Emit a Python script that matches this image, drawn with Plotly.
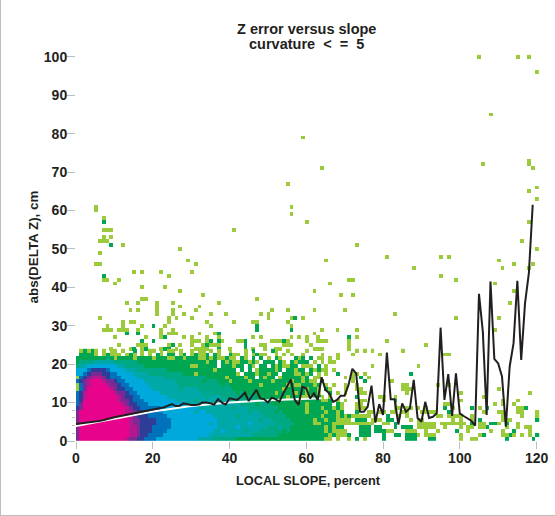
import numpy as np
import plotly.graph_objects as go

# density class per 1x1 bin, bottom row first, chunks of ten slope bins
# . empty, 1 light green ... a magenta
dense_rows = [
  "8aaaaaaaaa aaa9887766 6555555555 5544443333 3322222222 2222222222 2222211.1. .1.2.1.... 2.....222. ..22...... 1..11..... ..2......2.",
  "8aaaaaaaaa aaaa998776 6665555555 5555544444 4444443333 3332222222 2222221211 12..222... 2..22.2221 .111...... 1....12... .1121.1.1.2",
  "8aaaaaaaaa aaaa998777 6666555555 5555554454 4444344433 3333232222 2222212111 1...222.22 211...111. .1..1....2 ..1.....1. .1..2...1..",
  "8aaaaaaaaa aaaa998777 6666655555 5555555444 4454444444 3334332222 2222212122 ....222.22 ...2.222.1 1111..1... 1.11.112.. ..1..1.11..",
  "8aaaaaaaaa aaaa988777 7666655555 5555545444 4444454444 4433333222 2211222111 11111111.. 11.2.....1 1111.11111 11.2.11.22 1.2..1.....",
  "8aaaaaaaaa aaaa988777 7666655555 5555555444 4444444434 4333332222 2212212211 11.222.111 .22....1.1 1.......1. 1..1.2.... .111......2",
  "8aaaaaaaaa aaaa987776 6666555555 5555554444 4434444443 3333322222 2222122212 1211111... .2..1.1... ....11.111 1..1...... .1....1...1",
  "8aaaaaaaaa aaa9987766 6665555555 5455444444 4444434433 3323222222 1222212212 ...2..11.1 1.11.11... 1111...2.. ......1... 11...11...1",
  "78aaaaaaaa aaa9877666 6655555555 5544444444 4344433333 3332222222 1222122121 ...111.... ...11.11.1 .1....2.1. ...2.1.2.. .....112...",
  "68aaaaaaaa aa98776665 5555555554 4444434444 4443333233 3222222222 1222222.21 ...11..... ...1...... ......11.. .........1 .1..1......",
  "67aaaaaaaa a988766655 5555554444 4344444444 4333333333 2222222212 2222112.1. 1...11.... 1..2...... .......... 1......... .1...1.....",
  "679aaaaaaa a987766555 5555444444 4444344433 3333233222 2222212221 11221.1... ...2.....1 1..1...... .......... ......1... ...........",
  "679aaaaaaa 9887665555 5544444444 4443433333 3323222222 2212222122 1221..2.1. 1...11.... ......1... .......... 1......... ........1..",
  "168aaaaaa9 8776655555 4444444344 4433333333 3222222222 2222122222 1221.21... 1..11..... .....111.. .......... .......... 1..........",
  "1689aaaa98 8766555554 4444444333 3333333323 2222222212 2222212112 2212.1.1.. 1..1...... .....11... ....1..1.. .......... ...........",
  "6789aaa988 7665555544 4444443333 3332333222 1222212222 2122221221 211.2..... ..1..2.... ..1....... .......... .......... ...........",
  "1678999876 6655554444 4443333333 3333222221 2222122.21 22.1222221 2.11...... 1.1.2.1... .......... .......... .......... ...........",
  "5567888776 6555544443 3333333322 2122222222 221.222122 122.222112 12.1.1..2. ..11.1.... .......2.. .......... .......... ...........",
  "5556777765 5554443333 3333222222 2222221222 22.2.2.122 2212.22122 .21211.1.. .......... .......... .......... .......... ...........",
  "3445555555 5443333322 2222222222 1122222.22 2122.21.22 .2121122.1 11.2.1.... .......1.. .........1 .......... .......... ...........",
  "2333344444 3333332222 2222222222 2222122.21 21122121.2 22.21.2122 2.1.1.11.. .......... .......... .......... .......... ...........",
  "2222222232 1222212222 1222112212 2211212112 11.21.2.2. 1.21...212 .2.11.1.1. .......... .......... .......... .......... ...........",
  ".22221.121 11.121.1.1 .21.22.12. 12112.21.. 211.1.1211 ..1.1.1..1 ....1...1. ..1......1 .......... ......11.. .......... ...........",
  ".12121.1.1 1.1..2.1.1 1.1.11.1.. 1.11.1.1.. 1...1.2... .21..1.... 1......... ...1.1.1.. .....1.... .......... .......... ...........",
]

light_x = [105, 115, 118, 120, 108, 59, 118, 106, 118, 64, 119, 55, 120, 118, 120, 5, 56, 5, 56, 7, 60, 118,
           7, 8, 9, 41, 7, 9, 6, 7, 8, 116, 12, 73, 27, 120, 6, 81, 95, 97, 29, 65, 110,
           5, 6, 31, 114, 119, 88, 111, 118, 15, 17, 22, 30, 24, 95, 7, 8, 11, 71, 72, 99,
           10, 66, 109, 17, 23, 27, 62, 114, 33, 69, 72, 17, 18, 47, 13, 16, 21, 25, 37, 113,
           21, 27, 32, 14, 16, 21, 25, 31, 51, 55, 62, 70, 21, 25, 28, 35, 39, 48, 50, 83,
           6, 24, 26, 30, 50, 56, 59, 99, 110, 12, 14, 15, 24, 34, 41, 46, 47, 55,
           8, 12, 17, 23, 35, 56, 7, 8, 9, 11, 12, 13, 16, 22, 25, 64, 68, 73, 109,
           22, 24, 25, 26, 32, 36, 62, 10, 18, 22, 28, 30, 34, 37, 46, 48, 56, 58, 60, 63, 73,
           30, 31, 32, 34, 38, 42, 43, 51, 52, 53, 55, 60, 63, 64, 65, 71, 81,
           11, 16, 17, 18, 24, 27, 30, 33, 35, 36, 37, 48, 49, 54, 55, 56, 61, 71, 91,
           9, 14, 17, 22, 26, 31, 32, 33, 34, 40, 46, 49, 52, 53, 62, 63, 64, 71]
light_y = [100, 100, 100, 96, 85, 79, 73, 72, 72, 71, 71, 67, 66, 65, 63, 61, 61, 60, 59, 58, 57, 57,
           55, 55, 55, 55, 53, 53, 52, 52, 52, 52, 51, 51, 50, 50, 49, 48, 48, 48, 47, 47, 47,
           46, 46, 46, 46, 46, 45, 45, 45, 44, 44, 44, 44, 43, 43, 42, 42, 42, 42, 42, 42,
           41, 41, 41, 40, 40, 39, 39, 39, 38, 38, 38, 37, 37, 37, 36, 36, 36, 36, 36, 36,
           35, 35, 35, 34, 34, 34, 34, 34, 34, 34, 34, 34, 33, 33, 33, 33, 33, 33, 33, 33,
           32, 32, 32, 32, 32, 32, 32, 32, 32, 31, 31, 31, 31, 31, 31, 31, 31, 31,
           30, 30, 30, 30, 30, 30, 29, 29, 29, 29, 29, 29, 29, 29, 29, 29, 29, 29, 29,
           28, 28, 28, 28, 28, 28, 28, 27, 27, 27, 27, 27, 27, 27, 27, 27, 27, 27, 27, 27, 27,
           26, 26, 26, 26, 26, 26, 26, 26, 26, 26, 26, 26, 26, 26, 26, 26, 26,
           25, 25, 25, 25, 25, 25, 25, 25, 25, 25, 25, 25, 25, 25, 25, 25, 25, 25, 25,
           24, 24, 24, 24, 24, 24, 24, 24, 24, 24, 24, 24, 24, 24, 24, 24, 24, 24]
green_x = [7, 9, 7, 57, 20, 47, 47, 56, 13, 16, 37, 23, 71, 17, 20, 35, 37, 44, 54, 25, 34, 44, 15, 18, 23, 24, 37, 44]
green_y = [57, 51, 43, 32, 30, 30, 29, 29, 28, 28, 28, 27, 27, 26, 26, 26, 26, 26, 26, 25, 25, 25, 24, 24, 24, 24, 24, 24]

mean_err = [4.4, 4.5, 4.7, 4.8, 4.9, 5, 5.2, 5.4, 5.6, 5.9, 6.2, 6.4, 6.6, 6.8, 7, 7.2, 7.4, 7.6, 7.8, 8,
            8.2, 8.3, 8.5, 8.8, 9.2, 9.6, 9.1, 9.2, 9.8, 9.5, 9.4, 9.4, 9.5, 10, 10, 9.8, 9.5, 10.9, 10, 9.5,
            11.1, 10.9, 10.7, 11.5, 12.6, 10.4, 11.8, 13.3, 11.1, 10.9, 10, 11.3, 10.9, 10.2, 12.4, 14.1, 16, 10.7, 9.4, 14.1,
            13.7, 11.1, 12.4, 10.7, 16.6, 13.3, 12.4, 10.2, 10.7, 11.8, 11.8, 14.6, 18.8, 17.6, 7.6, 7.6, 8.9, 14.4, 4.8, 9.6,
            6.8, 23, 10.9, 10.9, 4.3, 9.8, 7.6, 8.5, 15.9, 6, 5, 10.2, 6, 6.3, 7.2, 29.5, 10.7, 17.4, 6.5, 17.6,
            7.2, 6.5, 5.9, 5.3, 4, 38.3, 28.5, 6.8, 41.5, 21.4, 20.2, 16.8, 3.7, 19.4, 25.4, 41.7, 21.1, 35.9, 43.7, 61.5]
trend_x = [0, 10, 20, 30, 40, 50, 60, 64]
trend_y = [3.9, 5.8, 7.7, 9.1, 10, 10.6, 10.9, 11.1]

x_ticks = [0, 20, 40, 60, 80, 100, 120]
y_ticks = [0, 10, 20, 30, 40, 50, 60, 70, 80, 90, 100]

class_colors = ["#9BCB3B", "#00A651", "#00A884", "#00A8A8", "#00A9DC", "#0072BC",
                "#2E3E98", "#7A2A92", "#B5178E", "#E8038D"]
scale = [[i / 9, col] for i, col in enumerate(class_colors)]

levels = "123456789a"
dense = []
for row in dense_rows:
  row = row.replace(" ", "").ljust(121, ".")
  dense.append([levels.index(ch) + 1 if ch in levels else None for ch in row])

sparse = [[None] * 121 for _ in range(101)]
for cx, cy in zip(light_x, light_y):
  sparse[cy][cx] = 1
for cx, cy in zip(green_x, green_y):
  sparse[cy][cx] = 2

fig = go.Figure()
fig.add_trace(go.Heatmap(
  z=sparse, x=np.arange(121) + 0.2, y=np.arange(101),
  zmin=1, zmax=10, colorscale=scale, showscale=False, hoverongaps=False
))
fig.add_trace(go.Heatmap(
  z=dense, x=np.arange(121) + 0.3, y=np.arange(len(dense)) + 0.5,
  zmin=1, zmax=10, colorscale=scale, showscale=False, hoverongaps=False
))
fig.add_trace(go.Scatter(x=trend_x, y=trend_y, mode="lines", line={"color": "white", "width": 2}))
fig.add_trace(go.Scatter(x=list(range(120)), y=mean_err, mode="lines", line={"color": "#231F20", "width": 2}))

tick_font = {"family": "Liberation Sans", "size": 14, "color": "#231F20"}
title_font = {"family": "Liberation Sans", "size": 14.5, "color": "#231F20"}
fig.update_layout(
  width=555, height=516, autosize=False,
  margin={"l": 76, "r": 15, "t": 53, "b": 75},
  paper_bgcolor="white", plot_bgcolor="white", showlegend=False,
  font=tick_font,
  xaxis={
    "range": [0, 120.9], "tickvals": x_ticks, "ticktext": [f"<b>{t}</b>" for t in x_ticks], "automargin": False,
    "ticks": "outside", "ticklen": 7, "tickcolor": "#BDBDBD", "tickwidth": 1, "ticklabelstandoff": -3,
    "showgrid": False, "zeroline": False, "showline": False,
    "title": {"text": "<b>LOCAL SLOPE, percent</b>", "standoff": 11,
              "font": {"family": "Liberation Sans", "size": 12.8, "color": "#231F20"}},
  },
  yaxis={
    "range": [0, 101], "tickvals": y_ticks, "ticktext": [f"<b>{t}</b>" for t in y_ticks], "automargin": False,
    "ticks": "outside", "ticklen": 8, "tickcolor": "#BDBDBD", "tickwidth": 1, "ticklabelstandoff": -3,
    "showgrid": False, "zeroline": False, "showline": False,
    "minor": {"tickvals": [2, 4, 6, 8], "ticks": "outside", "ticklen": 3, "tickcolor": "#BDBDBD"},
    "title": {"text": "<b>abs(DELTA Z), cm</b>", "standoff": 2,
              "font": {"family": "Liberation Sans", "size": 13.4, "color": "#231F20"}},
  },
  annotations=[
    {"text": "<b>Z error versus slope</b>", "xref": "paper", "yref": "paper", "x": 230 / 464, "y": (441 - 29) / 388,
     "xanchor": "center", "yanchor": "middle", "showarrow": False, "font": title_font},
    {"text": "<b>curvature &nbsp;<&nbsp; = &nbsp;5</b>", "xref": "paper", "yref": "paper", "x": 230 / 464, "y": (441 - 44) / 388,
     "xanchor": "center", "yanchor": "middle", "showarrow": False, "font": title_font},
  ],
  shapes=[
    {"type": "line", "xref": "paper", "yref": "paper", "x0": -75.5 / 464, "x1": -75.5 / 464, "y0": -75 / 388, "y1": 53 / 388 + 1,
     "line": {"color": "#BDBDBD", "width": 1}},
    {"type": "line", "xref": "paper", "yref": "paper", "x0": -76 / 464, "x1": 479 / 464, "y0": -74.5 / 388, "y1": -74.5 / 388,
     "line": {"color": "#BDBDBD", "width": 1}},
  ],
)

fig.write_html("out.html", config={"displayModeBar": False}, post_script="document.body.style.margin='0';")
